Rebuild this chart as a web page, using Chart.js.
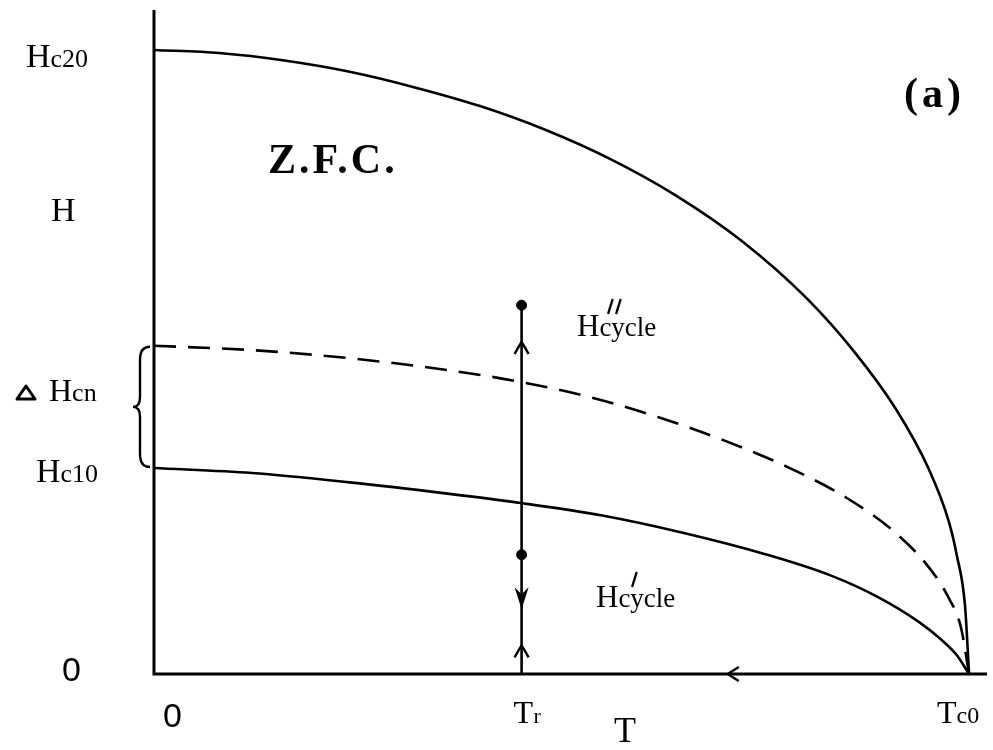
<!DOCTYPE html>
<html lang="en">
<head>
<meta charset="utf-8">
<script src="https://cdn.jsdelivr.net/npm/chart.js@4.4.1/dist/chart.umd.min.js"></script>
<style>
  body { margin: 0; background: #fff; }
  canvas { display: block; }
</style>
</head>
<body>
<canvas id="zfc" width="993" height="750"></canvas>
<script>
// reduced temperature T/Tc0 and reduced field H/Hc20
var hc2T = [0, 0.08, 0.16, 0.24, 0.32, 0.40, 0.48, 0.56, 0.64, 0.72, 0.80, 0.86, 0.91, 0.95, 0.975, 0.985, 0.995, 1];
var hc2H = [1, 0.995, 0.983, 0.965, 0.940, 0.910, 0.872, 0.825, 0.767, 0.695, 0.603, 0.515, 0.425, 0.330, 0.245, 0.190, 0.110, 0];

var hcnT = [0, 0.12, 0.24, 0.36, 0.45, 0.54, 0.62, 0.70, 0.78, 0.85, 0.91, 0.95, 0.975, 0.99, 1];
var hcnH = [0.526, 0.519, 0.506, 0.487, 0.468, 0.442, 0.411, 0.374, 0.330, 0.282, 0.226, 0.172, 0.122, 0.075, 0];

var hc1T = [0, 0.12, 0.24, 0.36, 0.45, 0.55, 0.65, 0.75, 0.83, 0.89, 0.94, 0.965, 0.985, 1];
var hc1H = [0.330, 0.322, 0.307, 0.289, 0.274, 0.254, 0.226, 0.192, 0.158, 0.122, 0.082, 0.056, 0.030, 0];

// field cycle at Tr
var tr = 0.451;
var cycleTop = 0.591;
var cycleMid = 0.191;
var cycleArrows = [
  { x: tr, y: 0.532, dir: 'up' },
  { x: tr, y: 0.123, dir: 'down' },
  { x: tr, y: 0.046, dir: 'up' },
  { x: 0.704, y: 0, dir: 'left' }
];

function pts(xs, ys) {
  var out = [];
  for (var i = 0; i < xs.length; i++) out.push({ x: xs[i], y: ys[i] });
  return out;
}

var SERIF = '"Liberation Serif", "DejaVu Serif", serif';
var SANS = '"Liberation Sans", Arial, sans-serif';

// H with a same-baseline smaller index, e.g. H c20
function hLabel(ctx, x, y, big, sub, bigSize, subSize) {
  ctx.font = bigSize + 'px ' + SERIF;
  ctx.fillText(big, x, y);
  var w = ctx.measureText(big).width;
  ctx.font = subSize + 'px ' + SERIF;
  ctx.fillText(sub, x + w, y);
  return x + w;
}

function primes(ctx, x, y, n) {
  ctx.save();
  ctx.lineWidth = 2.4;
  ctx.lineCap = 'round';
  for (var i = 0; i < n; i++) {
    ctx.beginPath();
    ctx.moveTo(x + i * 8 + 4, y - 13);
    ctx.lineTo(x + i * 8, y);
    ctx.stroke();
  }
  ctx.restore();
}

var decor = {
  id: 'decor',
  beforeDatasetsDraw: function (chart) {
    var ctx = chart.ctx, a = chart.chartArea;
    ctx.save();
    ctx.strokeStyle = '#000';
    ctx.lineWidth = 3;
    ctx.beginPath();
    ctx.moveTo(a.left, a.top);
    ctx.lineTo(a.left, a.bottom);
    ctx.lineTo(a.right, a.bottom);
    ctx.stroke();
    ctx.restore();
  },
  afterDraw: function (chart) {
    var ctx = chart.ctx, a = chart.chartArea;
    var sx = chart.scales.x, sy = chart.scales.y;
    ctx.save();
    ctx.fillStyle = '#000';
    ctx.strokeStyle = '#000';
    ctx.textBaseline = 'alphabetic';
    ctx.textAlign = 'left';

    // arrows along the cycle and the cooling path
    cycleArrows.forEach(function (ar) {
      var px = sx.getPixelForValue(ar.x), py = sy.getPixelForValue(ar.y);
      ctx.lineWidth = 2.4;
      ctx.beginPath();
      if (ar.dir === 'up') {
        ctx.moveTo(px - 7, py + 12);
        ctx.quadraticCurveTo(px - 2, py + 3, px, py);
        ctx.quadraticCurveTo(px + 2, py + 3, px + 7, py + 12);
        ctx.stroke();
      } else if (ar.dir === 'down') {
        ctx.moveTo(px, py + 12);
        ctx.lineTo(px - 7, py - 10);
        ctx.lineTo(px, py - 3);
        ctx.lineTo(px + 7, py - 10);
        ctx.closePath();
        ctx.fill();
      } else {
        ctx.moveTo(px + 11, py - 7);
        ctx.quadraticCurveTo(px + 3, py - 2, px, py);
        ctx.quadraticCurveTo(px + 3, py + 2, px + 11, py + 7);
        ctx.stroke();
      }
    });

    // brace spanning Hc10 .. Hcn
    var bt = sy.getPixelForValue(hcnH[0]), bb = sy.getPixelForValue(hc1H[0]);
    var bm = (bt + bb) / 2, bx = a.left - 14;
    ctx.lineWidth = 2.4;
    ctx.beginPath();
    ctx.moveTo(a.left - 4, bt + 1);
    ctx.quadraticCurveTo(bx, bt + 1, bx, bt + 14);
    ctx.lineTo(bx, bm - 10);
    ctx.quadraticCurveTo(bx, bm, bx - 7, bm);
    ctx.quadraticCurveTo(bx, bm, bx, bm + 10);
    ctx.lineTo(bx, bb - 14);
    ctx.quadraticCurveTo(bx, bb - 1, a.left - 4, bb - 1);
    ctx.stroke();

    // field axis labels
    hLabel(ctx, 26, sy.getPixelForValue(1) + 17, 'H', 'c20', 34, 26);
    ctx.font = '34px ' + SERIF;
    ctx.fillText('H', 51, 221);
    // delta sign
    ctx.lineWidth = 3;
    ctx.lineJoin = 'round';
    ctx.beginPath();
    ctx.moveTo(26, 386);
    ctx.lineTo(35, 399);
    ctx.lineTo(17, 399);
    ctx.closePath();
    ctx.stroke();
    hLabel(ctx, 49, 401, 'H', 'cn', 32, 26);
    hLabel(ctx, 36, sy.getPixelForValue(hc1H[0]) + 14, 'H', 'c10', 34, 26);
    ctx.font = '34px ' + SANS;
    ctx.fillText('0', 62, sy.getPixelForValue(0) + 7);

    // temperature axis labels
    ctx.fillText('0', 163, 727);
    var trx = sx.getPixelForValue(tr);
    ctx.font = '32px ' + SERIF;
    ctx.fillText('T', trx - 8, 723);
    ctx.font = '22px ' + SERIF;
    ctx.fillText('r', trx + 12, 723);
    var tcx = sx.getPixelForValue(1);
    hLabel(ctx, tcx - 32, 723, 'T', 'c0', 32, 24);
    ctx.font = '36px ' + SERIF;
    ctx.fillText('T', 614, 742);

    // cycle labels
    var e1 = hLabel(ctx, 577, 336, 'H', 'cycle', 31, 27);
    primes(ctx, e1 + 9, 313, 2);
    var e2 = hLabel(ctx, 596, 607, 'H', 'cycle', 31, 27);
    primes(ctx, e2 + 14, 586, 1);

    // panel text
    ctx.font = 'bold 42px ' + SERIF;
    ctx.letterSpacing = '3px';
    ctx.fillText('Z.F.C.', 268, 173);
    ctx.font = 'bold 42px ' + SERIF;
    ctx.letterSpacing = '4px';
    ctx.fillText('(a)', 904, 107);
    ctx.restore();
  }
};

var lineStyle = {
  borderColor: '#000',
  borderWidth: 2.6,
  pointRadius: 0,
  showLine: true,
  cubicInterpolationMode: 'monotone',
  fill: false
};

new Chart(document.getElementById('zfc').getContext('2d'), {
  type: 'scatter',
  data: {
    datasets: [
      Object.assign({ label: 'Hc2', data: pts(hc2T, hc2H) }, lineStyle),
      Object.assign({ label: 'Hcn', data: pts(hcnT, hcnH), borderDash: [22, 12] }, lineStyle),
      Object.assign({ label: 'Hc1', data: pts(hc1T, hc1H) }, lineStyle),
      Object.assign({ label: 'cycle', data: [{ x: tr, y: 0 }, { x: tr, y: cycleTop }] }, lineStyle, { cubicInterpolationMode: 'default', tension: 0 }),
      {
        label: 'cycle ends',
        data: [{ x: tr, y: cycleTop }, { x: tr, y: cycleMid }],
        pointRadius: 5,
        pointBackgroundColor: '#000',
        pointBorderColor: '#000',
        showLine: false
      }
    ]
  },
  options: {
    responsive: false,
    animation: false,
    layout: { padding: { left: 154, right: 3, top: 10, bottom: 76 } },
    plugins: { legend: { display: false }, tooltip: { enabled: false } },
    scales: {
      x: { type: 'linear', min: 0, max: 1.022, display: false },
      y: { type: 'linear', min: 0, max: 1.064, display: false }
    }
  },
  plugins: [decor]
});
</script>
</body>
</html>
